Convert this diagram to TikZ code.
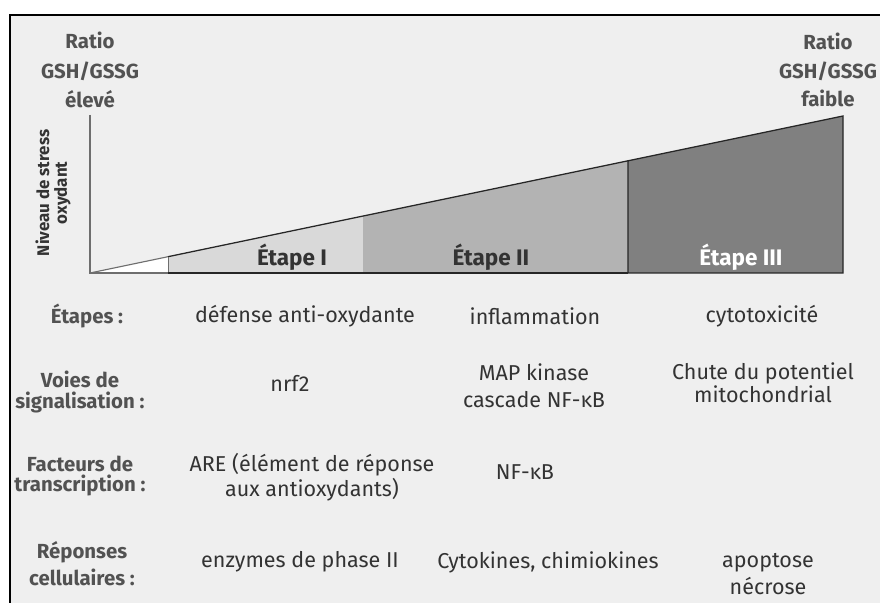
\documentclass[tikz,border=0pt]{standalone}
\usepackage{fontspec}
\setmainfont{Fira Sans}
\usetikzlibrary{positioning}
\definecolor{fond}{HTML}{EFEFEF}
\definecolor{encre}{HTML}{333333}
\definecolor{axe}{HTML}{6E6E6E}
\definecolor{etapeA}{HTML}{D9D9D9}
\definecolor{etapeB}{HTML}{B3B3B3}
\definecolor{etapeC}{HTML}{808080}

\begin{document}
\begin{tikzpicture}[
    x=0.025cm, y=-0.025cm,
    titre/.style={font=\bfseries\fontsize{14.5}{16}\selectfont, text=encre!85!white, align=center},
    texte/.style={font=\fontsize{15.3}{16}\selectfont, text=encre, align=center},
    petit/.style={font=\bfseries\fontsize{12}{12.5}\selectfont, text=encre, align=center},
    bord/.style={line width=0.9pt, draw=black!85}
]
    \useasboundingbox (0,0) rectangle (880,603);
    \fill[white] (0,0) rectangle (880,603);
    \fill[fond] (10,15) rectangle (880,603);
    \draw[line width=1.4pt] (10,603) -- (10,15) -- (880,15);

    % les trois etapes
    \coordinate (O) at (90,273);
    \fill[white] (O) -- (168,256.7) -- (168,273) -- cycle;
    \fill[etapeA] (168,273) -- (168,256.7) -- (363,216.1) -- (363,273) -- cycle;
    \fill[etapeB] (363,273) -- (363,216.1) -- (628,160.8) -- (628,273) -- cycle;
    \fill[etapeC] (628,273) -- (628,160.8) -- (843,116) -- (843,273) -- cycle;
    \draw[bord] (628,273) -- (628,160.8) -- (843,116) -- (843,273) -- cycle;
    \draw[bord] (363,273) -- (628,273);
    \draw[bord] (168,256.7) -- (628,160.8);
    \draw[axe, line width=0.6pt] (168,256.7) -- (168,273);
    \draw[axe, line width=0.8pt] (O) -- (168,256.7);
    \draw[axe, line width=1.2pt] (90,115) -- (O) -- (168,273);
    \draw[black!85, line width=1.4pt] (168,273) -- (372,273);

    \node[titre, font=\bfseries\fontsize{14.5}{21}\selectfont] (haut) at (90,70) {Ratio\\GSH/GSSG\\élevé};
    \node[titre, font=\bfseries\fontsize{14.5}{20}\selectfont] (bas) at (828,70) {Ratio\\GSH/GSSG\\faible};
    \node[petit, rotate=90] (stress) at (53,193) {Niveau de stress\\oxydant};

    \node[titre, font=\bfseries\fontsize{16}{16}\selectfont, text=encre] (e1) at (292,257) {Étape I};
    \node[titre, font=\bfseries\fontsize{16}{16}\selectfont, text=encre] (e2) at (491,257) {Étape II};
    \node[titre, font=\bfseries\fontsize{16}{16}\selectfont, text=white] (e3) at (741,257) {Étape III};

    % lignes du tableau
    \node[titre] (l1) at (87,316) {Étapes :};
    \node[titre, font=\bfseries\fontsize{14.5}{14.5}\selectfont] (l2) at (80,392) {Voies de\\signalisation :};
    \node[titre, font=\bfseries\fontsize{14.5}{14.5}\selectfont] (l3) at (80,476) {Facteurs de\\transcription :};
    \node[titre, font=\bfseries\fontsize{14.5}{19}\selectfont] (l4) at (82,564) {Réponses\\cellulaires :};

    \node[texte] (c11) at (305,316) {défense anti-oxydante};
    \node[texte] (c12) at (535,316) {inflammation};
    \node[texte] (c13) at (762,316) {cytotoxicité};

    \node[texte] (c21) at (290,383) {nrf2};
    \node[texte, font=\fontsize{15.3}{19.5}\selectfont] (c22) at (534,386) {MAP kinase\\cascade NF-κB};
    \node[texte, font=\fontsize{15.3}{14}\selectfont] (c23) at (763,383) {Chute du potentiel\\mitochondrial};

    \node[texte, font=\fontsize{15.3}{18}\selectfont] (c31) at (312,477) {ARE (élément de réponse\\aux antioxydants)};
    \node[texte] (c32) at (525,472) {NF-κB};

    \node[texte] (c41) at (300,562) {enzymes de phase II};
    \node[texte] (c42) at (548,562) {Cytokines, chimiokines};
    \node[texte, font=\fontsize{15.3}{19.5}\selectfont] (c43) at (768,574) {apoptose\\nécrose};
\end{tikzpicture}
\end{document}
